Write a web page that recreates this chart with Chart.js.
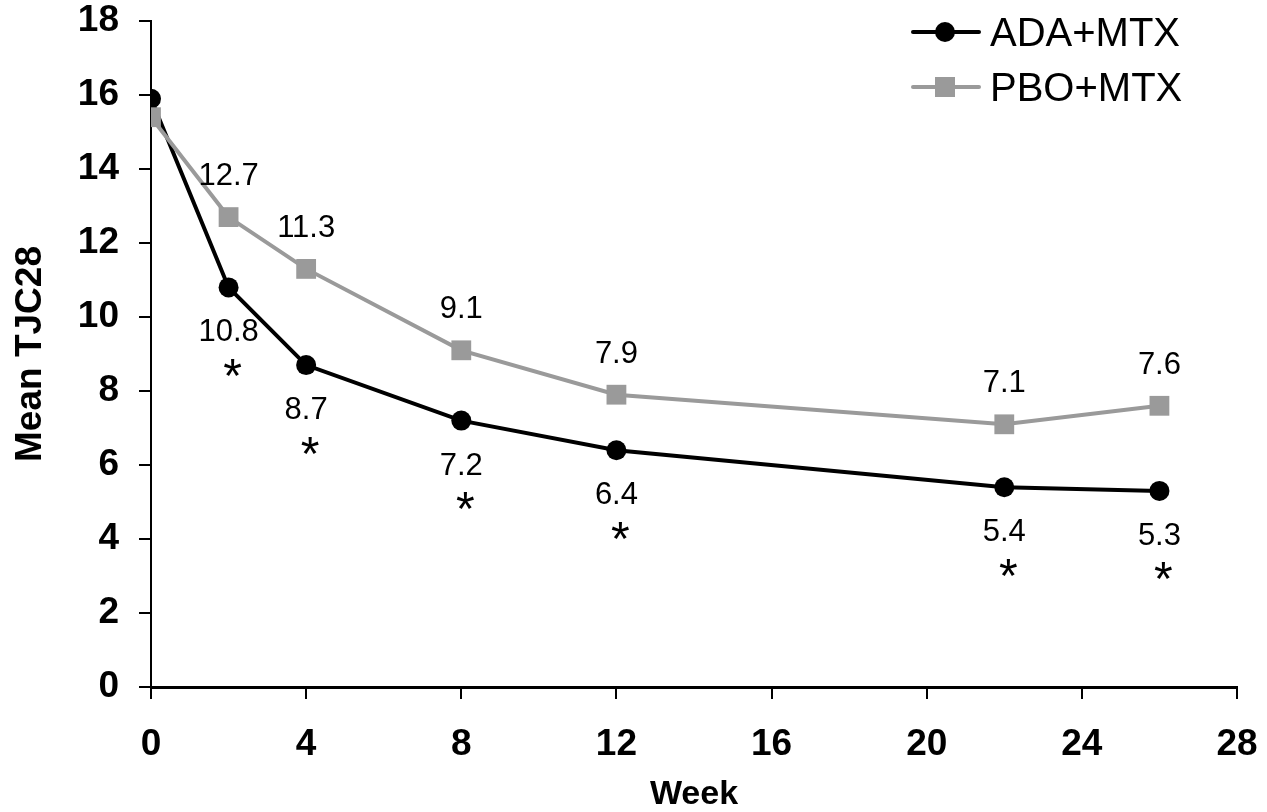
<!DOCTYPE html>
<html>
<head>
<meta charset="utf-8">
<script src="https://cdn.jsdelivr.net/npm/chart.js@4.4.1/dist/chart.umd.min.js"></script>
<style>
  html, body { margin: 0; padding: 0; background: #fff; }
  #wrap { width: 1267px; height: 812px; }
</style>
</head>
<body>
<div id="wrap"><canvas id="tjcChart" width="1267" height="812"></canvas></div>
<script>
// data
const weeks = [0, 2, 4, 8, 12, 22, 26];
const adaMtx = [15.9, 10.8, 8.7, 7.2, 6.4, 5.4, 5.3];
const pboMtx = [15.4, 12.7, 11.3, 9.1, 7.9, 7.1, 7.6];
const adaLabels = ['', '10.8', '8.7', '7.2', '6.4', '5.4', '5.3'];
const pboLabels = ['', '12.7', '11.3', '9.1', '7.9', '7.1', '7.6'];
const adaSignificant = [false, true, true, true, true, true, true];
const seriesNames = ['ADA+MTX', 'PBO+MTX'];

const FONT = '"Liberation Sans", Arial, Helvetica, sans-serif';
const GREY = '#9a9a9a';

// draw text so that its glyphs are visually centred on y
function drawCentered(ctx, text, x, y) {
  const m = ctx.measureText(text);
  ctx.fillText(text, x, y + (m.actualBoundingBoxAscent - m.actualBoundingBoxDescent) / 2);
}

// value labels + asterisks
const valueLabels = {
  id: 'valueLabels',
  afterDatasetsDraw(chart) {
    const ctx = chart.ctx;
    ctx.save();
    ctx.textAlign = 'center';
    ctx.textBaseline = 'alphabetic';
    ctx.fillStyle = '#000';
    const ada = chart.getDatasetMeta(0).data;
    const pbo = chart.getDatasetMeta(1).data;
    ctx.font = '31px ' + FONT;
    pbo.forEach((pt, i) => {
      if (pboLabels[i]) drawCentered(ctx, pboLabels[i], pt.x, pt.y - 43);
    });
    ada.forEach((pt, i) => {
      if (adaLabels[i]) drawCentered(ctx, adaLabels[i], pt.x, pt.y + 43);
    });
    ctx.font = '48px ' + FONT;
    ada.forEach((pt, i) => {
      if (adaSignificant[i]) drawCentered(ctx, '*', pt.x + 4, pt.y + 80);
    });
    ctx.restore();
  }
};

// legend in the top right corner, line through the marker
const cornerLegend = {
  id: 'cornerLegend',
  afterDraw(chart) {
    const ctx = chart.ctx;
    const rows = [
      { y: 32, ds: chart.data.datasets[0] },
      { y: 87, ds: chart.data.datasets[1] }
    ];
    ctx.save();
    rows.forEach(r => {
      ctx.strokeStyle = r.ds.borderColor;
      ctx.lineWidth = 4;
      ctx.lineCap = 'round';
      ctx.beginPath();
      ctx.moveTo(913, r.y);
      ctx.lineTo(979, r.y);
      ctx.stroke();
      ctx.fillStyle = r.ds.pointBackgroundColor;
      if (r.ds.pointStyle === 'rect') {
        ctx.fillRect(935, r.y - 10, 20, 20);
      } else {
        ctx.beginPath();
        ctx.arc(945, r.y, 10, 0, Math.PI * 2);
        ctx.fill();
      }
      ctx.fillStyle = '#000';
      ctx.font = '40px ' + FONT;
      ctx.textAlign = 'left';
      ctx.textBaseline = 'alphabetic';
      drawCentered(ctx, r.ds.label, 990, r.y);
    });
    ctx.restore();
  }
};

// fixed axis sizes, and no extra label padding so layout.padding decides the plot box
function fixSize(prop, val) {
  return s => {
    s[prop] = val;
    s.paddingTop = 0; s.paddingBottom = 0;
    s.paddingLeft = 0; s.paddingRight = 0;
  };
}

const ctx = document.getElementById('tjcChart').getContext('2d');
new Chart(ctx, {
  type: 'line',
  data: {
    datasets: [
      {
        label: seriesNames[0],
        data: weeks.map((w, i) => ({ x: w, y: adaMtx[i] })),
        borderColor: '#000',
        backgroundColor: '#000',
        pointBackgroundColor: '#000',
        pointBorderColor: '#000',
        borderWidth: 4,
        pointStyle: 'circle',
        pointRadius: 10,
        pointBorderWidth: 0,
        tension: 0,
        order: 2
      },
      {
        label: seriesNames[1],
        data: weeks.map((w, i) => ({ x: w, y: pboMtx[i] })),
        borderColor: GREY,
        backgroundColor: GREY,
        pointBackgroundColor: GREY,
        pointBorderColor: GREY,
        borderWidth: 4,
        pointStyle: 'rect',
        pointRadius: 14,
        pointBorderWidth: 0,
        tension: 0,
        order: 1
      }
    ]
  },
  options: {
    responsive: false,
    animation: false,
    devicePixelRatio: 1,
    layout: { padding: { left: 0, top: 21, right: 30, bottom: 0 } },
    plugins: {
      legend: { display: false },
      tooltip: { enabled: false }
    },
    scales: {
      x: {
        type: 'linear',
        min: 0,
        max: 28,
        afterFit: fixSize('height', 125),
        ticks: {
          stepSize: 4,
          color: '#000',
          padding: 27,
          font: { family: FONT, size: 37, weight: 'bold', lineHeight: 1 }
        },
        grid: { drawOnChartArea: false, drawTicks: true, tickLength: 12, color: '#000', lineWidth: 2 },
        border: { display: true, color: '#000', width: 3 },
        title: {
          display: true,
          text: 'Week',
          color: '#000',
          padding: { top: 0, bottom: 0 },
          font: { family: FONT, size: 34, weight: 'bold', lineHeight: 1 }
        }
      },
      y: {
        min: 0,
        max: 18,
        afterFit: fixSize('width', 151),
        ticks: {
          stepSize: 2,
          color: '#000',
          padding: 20,
          font: { family: FONT, size: 37, weight: 'bold', lineHeight: 1 }
        },
        grid: { drawOnChartArea: false, drawTicks: true, tickLength: 12, color: '#000', lineWidth: 2 },
        border: { display: true, color: '#000', width: 2 },
        title: {
          display: true,
          text: 'Mean TJC28',
          color: '#000',
          padding: { top: 12, bottom: 0 },
          font: { family: FONT, size: 37, weight: 'bold', lineHeight: 1 }
        }
      }
    }
  },
  plugins: [valueLabels, cornerLegend]
});
</script>
</body>
</html>
